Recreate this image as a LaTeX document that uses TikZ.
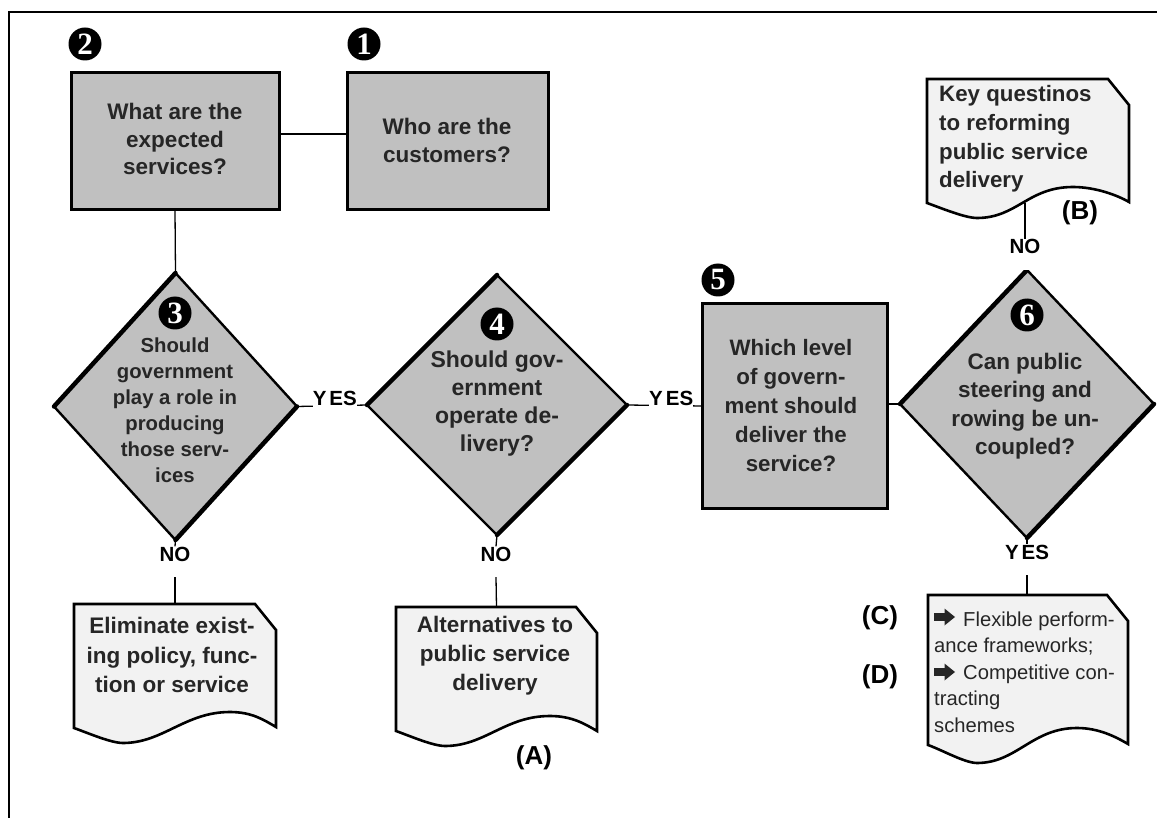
\documentclass[tikz,border=0pt]{standalone}
\usepackage{fontspec}
\setmainfont{Liberation Sans}
\newfontfamily\numfont{Liberation Serif}
\usetikzlibrary{shapes.geometric}
\definecolor{boxgray}{HTML}{C0C0C0}
\definecolor{docgray}{HTML}{F2F2F2}
\definecolor{txt}{HTML}{262626}
% x1, x2, top, yL, yR, dipx, dipy, peakx, peaky
\newcommand{\docpath}[9]{%
  \filldraw[docstyle] (#1,#3) -- ({#2-21},#3) -- (#2,{#3+26}) -- (#2,#5)
    .. controls ({#2-12},{#5-7}) and ({#8+22},#9) .. (#8,#9)
    .. controls ({#8-45},#9) and ({#6+40},#7) .. (#6,#7)
    .. controls ({#6-12},#7) and ({#1+14},{#4+5}) .. (#1,#4) -- cycle;}
% block arrow: left x, centre y
\newcommand{\blockarrow}[2]{%
  \fill[txt] (#1,{#2-3.8}) -- ({#1+10.5},{#2-3.8}) -- ({#1+10.5},{#2-8.5}) -- ({#1+21},#2)
    -- ({#1+10.5},{#2+8.5}) -- ({#1+10.5},{#2+3.8}) -- (#1,{#2+3.8}) -- cycle;}
\begin{document}
\begin{tikzpicture}[x=1pt,y=-1pt,
  qbox/.style={draw=black, fill=boxgray, line width=3pt, rectangle, inner sep=0pt, outer sep=0pt},
  dia/.style={draw=black, fill=boxgray, line width=2.4pt, diamond, inner sep=0pt, outer sep=0pt},
  thickedge/.style={line width=4.5pt, line cap=round},
  qtext/.style={text=txt, align=center, inner sep=0pt},
  docstyle/.style={draw=black, fill=docgray, line width=2.6pt, line join=miter},
  docnode/.style={rectangle, inner sep=0pt, outer sep=0pt},
  conn/.style={line width=1.3pt},
  lab/.style={font=\bfseries\fontsize{20.5}{20.5}\selectfont, text=black, inner sep=0pt, fill=white},
  vlab/.style={lab, text height=14.5pt, text depth=16pt},
  hlab/.style={lab, text depth=2pt, anchor=base},
  letter/.style={font=\bfseries\fontsize{26}{26}\selectfont, text=black, inner sep=0pt},
  numc/.style={circle, fill=black, text=white, minimum size=33pt, inner sep=0pt, font=\numfont\bfseries\fontsize{31}{31}\selectfont},
  frame/.style={line width=1.5pt}
]
\useasboundingbox (0,0) rectangle (1157,818);
\draw[frame] (9,818) -- (9,12) -- (1157,12);

% boxes
\node[qbox, minimum width=208pt, minimum height=137pt] (b2) at (175,141.5) {};
\node[qtext, font=\bfseries\fontsize{22.5}{27.5}\selectfont] (b2t) at (175,139) {What are the\\expected\\services?};
\node[qbox, minimum width=201pt, minimum height=137pt] (b1) at (447.5,141.5) {};
\node[qtext, font=\bfseries\fontsize{22.5}{28}\selectfont] (b1t) at (447,140) {Who are the\\customers?};
\node[qbox, minimum width=185pt, minimum height=204pt] (b5) at (794.5,406) {};
\node[qtext, font=\bfseries\fontsize{22.3}{29}\selectfont] (b5t) at (791,406) {Which level\\of govern-\\ment should\\deliver the\\service?};

% diamonds
\node[dia, minimum width=243pt, minimum height=267pt] (d3) at (175.5,406.5) {};
\draw[thickedge] (d3.west) -- (d3.north) (d3.south) -- (d3.east);
\node[qtext, font=\bfseries\fontsize{20.3}{26}\selectfont] (d3t) at (175,410) {Should\\government\\play a role in\\producing\\those serv-\\ices};
\node[dia, minimum width=260pt, minimum height=260pt] (d4) at (497,405) {};
\draw[thickedge] (d4.west) -- (d4.north) (d4.south) -- (d4.east);
\node[qtext, font=\bfseries\fontsize{23}{28}\selectfont] (d4t) at (497,404) {Should gov-\\ernment\\operate de-\\livery?};
\node[dia, minimum width=254pt, minimum height=268pt] (d6) at (1027,404) {};
\draw[thickedge] (d6.west) -- (d6.north) (d6.south) -- (d6.east);
\node[qtext, font=\bfseries\fontsize{22.5}{28.5}\selectfont] (d6t) at (1025,406) {Can public\\steering and\\rowing be un-\\coupled?};

% circled numbers
\node[numc] (n2) at (85,44) {2};
\node[numc] (n1) at (364,44) {1};
\node[numc] (n3) at (175,313) {3};
\node[numc] (n4) at (497,324) {4};
\node[numc] (n5) at (718,280) {5};
\node[numc] (n6) at (1027,315) {6};

% documents
\docpath{74}{276}{604}{728}{727}{123}{743}{230}{712}
\node[docnode, minimum width=202pt, minimum height=124pt, anchor=north] (e) at (175,604) {};
\node[qtext, font=\bfseries\fontsize{22.5}{29.5}\selectfont] (et) at (172,655) {Eliminate exist-\\ing policy, func-\\tion or service};

\docpath{396}{597}{607}{731}{731}{445}{746}{550}{716}
\node[docnode, minimum width=201pt, minimum height=124pt, anchor=north] (a) at (496.5,607) {};
\node[qtext, font=\bfseries\fontsize{22.5}{29}\selectfont] (at) at (495,656) {Alternatives to\\public service\\delivery};

\docpath{927}{1129}{79}{203}{202}{977}{218}{1073}{187}
\node[docnode, minimum width=202pt, minimum height=124pt, anchor=north] (b) at (1028,79) {};
\node[qtext, align=left, font=\bfseries\fontsize{22.3}{28.7}\selectfont, anchor=west] (bt) at (939,139) {Key questinos\\to reforming\\public service\\delivery};

\docpath{928}{1128}{595}{745}{744}{977}{763}{1077}{728}
\node[docnode, minimum width=200pt, minimum height=150pt, anchor=north] (c) at (1028,595) {};
\blockarrow{934}{617}
\blockarrow{934}{672}
\node[qtext, align=left, font=\fontsize{20.2}{26.5}\selectfont, anchor=west] (ct) at (934,672) {\hspace*{29pt}Flexible perform-\\ance frameworks;\\\hspace*{29pt}Competitive con-\\tracting\\schemes};

% letters
\node[letter] (la) at (534,758) {(A)};
\node[letter] (lb) at (1080,213) {(B)};
\node[letter] (lc) at (880,618) {(C)};
\node[letter] (ld) at (880,677) {(D)};

% connectors
\draw[conn] ([yshift=7.5pt]b2.east) -- ([yshift=7.5pt]b1.west);
\draw[conn] (b2.south) -- (d3.north);
\draw[conn] (d3.east) -- node[hlab, pos=0.54] (yes34) {Y\kern3pt ES} (d4.west);
\draw[conn] (d4.east) -- node[hlab, pos=0.59] (yes45) {Y\kern3pt ES} (b5.west);
\draw[conn] (d6.west -| b5.east) -- (d6.west);

\node[vlab, anchor=base] (no3) at (175,561) {NO};
\draw[conn] (d3.south) -- (no3.north);
\draw[conn] (no3.south) -- (e.north);

\node[vlab, anchor=base] (no4) at (496,561) {NO};
\draw[conn] (d4.south) -- (no4.north);
\draw[conn] (no4.south) -- (a.north);

\coordinate (bw) at (1025,203);
\node[vlab, anchor=base] (no6) at (1025,254) {NO};
\draw[conn] (bw) -- (no6.north);

\node[vlab, anchor=base] (yes6) at (1027,559) {Y\kern3pt ES};
\draw[conn] (d6.south) -- (yes6.north);
\draw[conn] (yes6.south) -- (yes6.south |- c.north);
\end{tikzpicture}
\end{document}
